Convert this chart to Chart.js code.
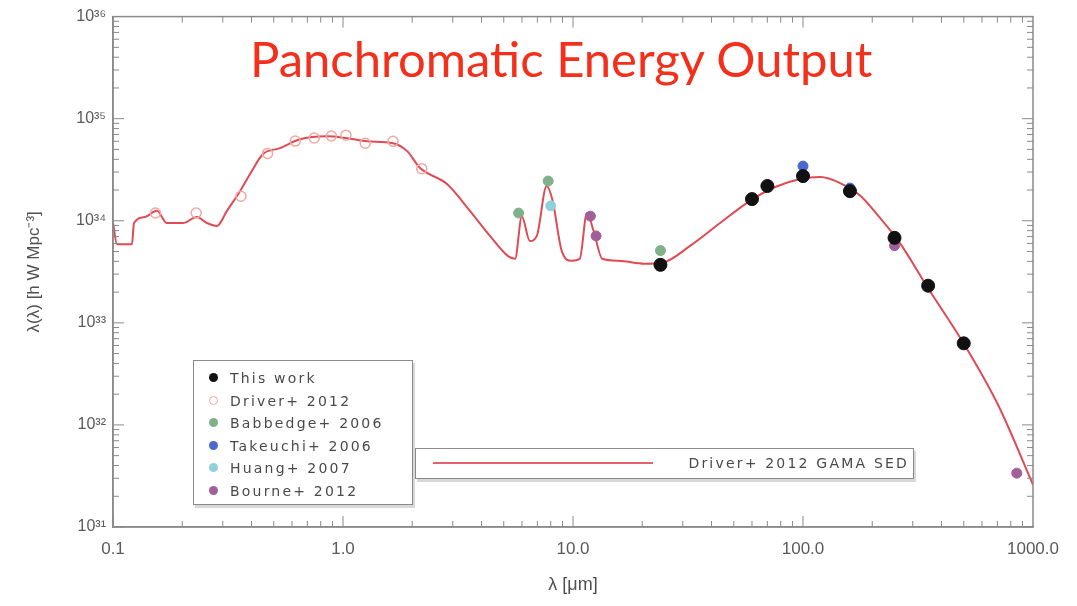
<!DOCTYPE html>
<html>
<head>
<meta charset="utf-8">
<script src="https://cdn.jsdelivr.net/npm/chart.js@4.4.1/dist/chart.umd.min.js"></script>
<style>
  body { margin: 0; background: #fff; }
  #wrap { position: relative; width: 1077px; height: 606px; }
  #title {
    position: absolute; left: 250px; top: 29px; white-space: nowrap;
    font-family: Lato, "Open Sans", sans-serif; font-size: 49px; color: #f2301c;
  }
  .legend {
    position: absolute; background: #fff; border: 1.5px solid #8a8a8a;
    font-family: "DejaVu Sans", sans-serif; font-size: 14px; color: #4a4a4a;
    letter-spacing: 2.2px; box-shadow: 2px 3px 0 #d8d8d8;
  }
  .row { position: absolute; left: 0; height: 20px; line-height: 20px; white-space: nowrap; }
  .mk { position: absolute; left: 15px; top: 5px; width: 9px; height: 9px; border-radius: 50%; }
  .row span.t { position: absolute; left: 36px; }
</style>
</head>
<body>
<div id="wrap">
  <canvas id="sed" width="1077" height="606"></canvas>
  <div id="title">Panchromatic Energy Output</div>
  <div class="legend" id="legendPoints" style="left:193px; top:360px; width:218px; height:143px;"></div>
  <div class="legend" id="legendLine" style="left:415px; top:448px; width:497px; height:29px;">
    <div style="position:absolute; left:17px; top:13px; width:220px; height:2px; background:#e4606a;"></div>
    <div style="position:absolute; right:4px; top:4px; line-height:20px;">Driver+ 2012 GAMA SED</div>
  </div>
</div>
<script>
// GAMA cosmic SED curve (wavelength in micron, energy density in h W Mpc^-3)
const sedWavelength = [0.100, 0.1041, 0.1209, 0.1234, 0.1378, 0.1553, 0.1716, 0.2014, 0.2318, 0.2562,
  0.2831, 0.3129, 0.3565, 0.3939, 0.4484, 0.5318, 0.650, 0.8517, 1.041, 1.272, 1.651, 1.900, 2.164,
  2.833, 3.563, 4.355, 5.22, 5.60, 5.99, 6.49, 6.96, 7.68, 8.16, 8.93, 9.87, 10.7, 11.5, 12.3, 13.4,
  15.8, 20.5, 24.4, 32.4, 43.6, 58.6, 75.7, 97.4, 119, 145, 178, 213, 260, 351, 497, 707, 1000];
const sedFlux = [9.5e33, 5.9e33, 5.9e33, 9.5e33, 1.09e34, 1.25e34, 9.5e33, 9.5e33, 1.09e34, 9.5e33,
  8.9e33, 1.25e34, 1.95e34, 2.86e34, 4.49e34, 5.14e34, 6.30e34, 6.73e34, 6.44e34, 6.01e34, 5.75e34, 4.81e34, 3.28e34,
  2.29e34, 1.25e34, 7.1e33, 4.5e33, 4.24e33, 1.11e34, 6.35e33, 7.1e33, 2.19e34, 1.56e34, 5.07e33, 4.05e33, 4.24e33, 1.19e34, 7.9e33, 4.24e33,
  4.05e33, 3.79e33, 3.87e33, 5.7e33, 9.5e33, 1.56e34, 2.14e34, 2.56e34, 2.68e34, 2.34e34, 1.75e34, 1.11e34, 6.35e33, 2.16e33, 6.4e32, 1.55e32, 2.6e31];

const thisWorkWavelength = [24, 60, 70, 100, 160, 250, 350, 500];
const thisWorkFlux = [3.7e33, 1.63e34, 2.19e34, 2.74e34, 1.95e34, 6.8e33, 2.31e33, 6.3e32];

const driverWavelength = [0.153, 0.23, 0.36, 0.47, 0.62, 0.75, 0.89, 1.03, 1.25, 1.65, 2.2];
const driverFlux = [1.19e34, 1.19e34, 1.74e34, 4.57e34, 6.03e34, 6.46e34, 6.76e34, 6.9e34, 5.75e34, 6.0e34, 3.24e34];

const babbedgeWavelength = [5.8, 7.8, 24];
const babbedgeFlux = [1.19e34, 2.45e34, 5.1e33];

const takeuchiWavelength = [100, 160];
const takeuchiFlux = [3.43e34, 2.09e34];

const huangWavelength = [8.0];
const huangFlux = [1.4e34];

const bourneWavelength = [11.9, 12.6, 250, 850];
const bourneFlux = [1.11e34, 7.1e33, 5.7e33, 3.37e31];

const xTicks = [0.1, 1, 10, 100, 1000];
const xTickLabels = ["0.1", "1.0", "10.0", "100.0", "1000.0"];
const yTicks = [1e31, 1e32, 1e33, 1e34, 1e35, 1e36];
const yTickLabels = ["10³¹", "10³²", "10³³", "10³⁴", "10³⁵", "10³⁶"];

const pointSeries = [
  { label: "This work", xs: thisWorkWavelength, ys: thisWorkFlux, color: "#111", fill: true, r: 6.5 },
  { label: "Driver+ 2012", xs: driverWavelength, ys: driverFlux, color: "#f0a8a0", fill: false, r: 5 },
  { label: "Babbedge+ 2006", xs: babbedgeWavelength, ys: babbedgeFlux, color: "#7fb08a", fill: true, r: 5 },
  { label: "Takeuchi+ 2006", xs: takeuchiWavelength, ys: takeuchiFlux, color: "#4a68d0", fill: true, r: 5 },
  { label: "Huang+ 2007", xs: huangWavelength, ys: huangFlux, color: "#8fd0dc", fill: true, r: 5 },
  { label: "Bourne+ 2012", xs: bourneWavelength, ys: bourneFlux, color: "#a0609a", fill: true, r: 5 }
];

function toPoints(xs, ys) {
  return xs.map((x, i) => ({ x: x, y: ys[i] }));
}

// legend for the measurement points
const legendBox = document.getElementById("legendPoints");
pointSeries.forEach((s, i) => {
  const row = document.createElement("div");
  row.className = "row";
  row.style.top = (7 + i * 22.5) + "px";
  const mk = s.fill
    ? `<div class="mk" style="background:${s.color}"></div>`
    : `<div class="mk" style="border:1.5px solid ${s.color}; width:7px; height:7px"></div>`;
  row.innerHTML = mk + `<span class="t">${s.label}</span>`;
  legendBox.appendChild(row);
});

// frame with inward major / minor ticks on all four sides
const frameTicks = {
  id: "frameTicks",
  afterDatasetsDraw(chart) {
    const { ctx, chartArea: a, scales: { x, y } } = chart;
    ctx.save();
    ctx.strokeStyle = "#8a8a8a";
    ctx.lineWidth = 1.5;
    ctx.strokeRect(a.left, a.top, a.right - a.left, a.bottom - a.top);
    ctx.lineWidth = 1;
    ctx.beginPath();
    for (let e = -1; e < 3; e++) {
      for (let m = 1; m < 10; m++) {
        const px = x.getPixelForValue(m * Math.pow(10, e));
        const len = m === 1 ? 11 : 6;
        ctx.moveTo(px, a.bottom); ctx.lineTo(px, a.bottom - len);
        ctx.moveTo(px, a.top); ctx.lineTo(px, a.top + len);
      }
    }
    for (let e = 31; e < 36; e++) {
      for (let m = 1; m < 10; m++) {
        const py = y.getPixelForValue(m * Math.pow(10, e));
        const len = m === 1 ? 11 : 6;
        ctx.moveTo(a.left, py); ctx.lineTo(a.left + len, py);
        ctx.moveTo(a.right, py); ctx.lineTo(a.right - len, py);
      }
    }
    ctx.stroke();
    ctx.restore();
  }
};

const datasets = pointSeries.map((s, i) => ({
  label: s.label,
  data: toPoints(s.xs, s.ys),
  showLine: false,
  pointRadius: s.r,
  pointBackgroundColor: s.fill ? s.color : "rgba(0,0,0,0)",
  pointBorderColor: s.color,
  pointBorderWidth: s.fill ? 1 : 1.5,
  order: i
}));
datasets.push({
  label: "Driver+ 2012 GAMA SED",
  data: toPoints(sedWavelength, sedFlux),
  showLine: true,
  borderColor: "#e04a55",
  borderWidth: 2,
  pointRadius: 0,
  cubicInterpolationMode: "monotone",
  order: 20
});

new Chart(document.getElementById("sed"), {
  type: "scatter",
  data: { datasets },
  options: {
    responsive: false,
    animation: false,
    layout: { padding: { left: 0, top: 15, right: 44, bottom: 0 } },
    plugins: { legend: { display: false }, tooltip: { enabled: false } },
    scales: {
      x: {
        type: "logarithmic",
        min: 0.1, max: 1000,
        afterBuildTicks: (scale) => { scale.ticks = xTicks.map((v) => ({ value: v })); },
        afterFit: (scale) => { scale.height = 79; },
        ticks: {
          padding: 12, color: "#5a5a5a", maxRotation: 0,
          font: { family: "Liberation Sans", size: 17 },
          callback: (v) => xTickLabels[xTicks.indexOf(v)]
        },
        grid: { drawOnChartArea: false, drawTicks: false },
        border: { color: "#8a8a8a", width: 1.5 },
        title: {
          display: true, text: "λ [μm]", color: "#505050",
          font: { family: "Liberation Sans", size: 18 },
          padding: { top: 0, bottom: 10 }
        }
      },
      y: {
        type: "logarithmic",
        min: 1e31, max: 1e36,
        afterBuildTicks: (scale) => { scale.ticks = yTicks.map((v) => ({ value: v })); },
        afterFit: (scale) => { scale.width = 113; },
        ticks: {
          padding: 7, color: "#5a5a5a",
          font: { family: "Liberation Sans", size: 16 },
          callback: (v) => yTickLabels[yTicks.indexOf(v)]
        },
        grid: { drawOnChartArea: false, drawTicks: false },
        border: { color: "#8a8a8a", width: 1.5 },
        title: {
          display: true, text: "λ(λ) [h W Mpc⁻³]", color: "#505050",
          font: { family: "Liberation Sans", size: 17 },
          padding: { top: 24, bottom: 0 }
        }
      }
    }
  },
  plugins: [frameTicks]
});
</script>
</body>
</html>
